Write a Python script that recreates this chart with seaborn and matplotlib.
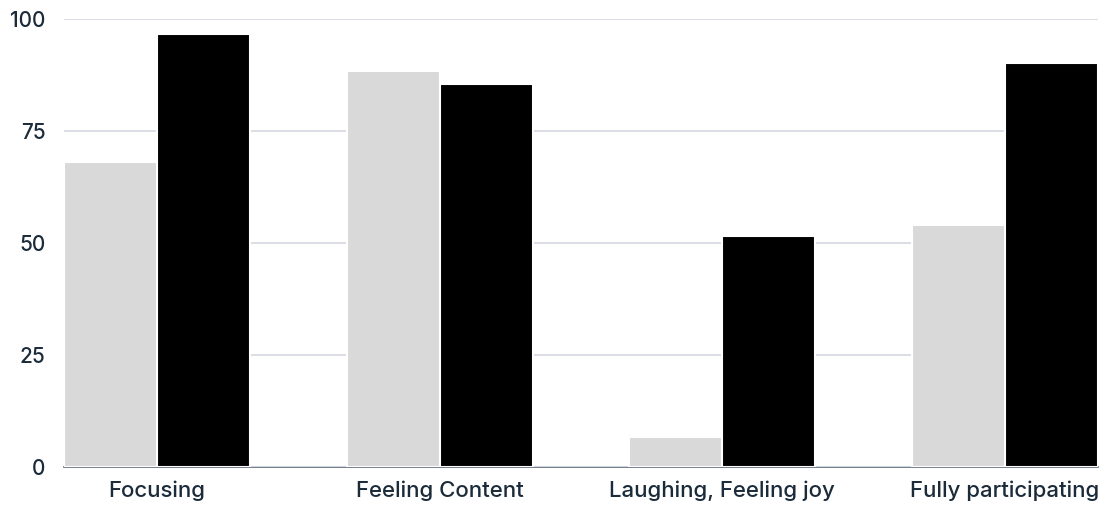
import matplotlib
matplotlib.use("Agg")
import matplotlib.pyplot as plt
import pandas as pd
import seaborn as sns

CATEGORIES = ["Focusing", "Feeling Content", "Laughing, Feeling joy", "Fully participating"]
SERIES = ["Series 1", "Series 2"]
SERIES_1 = [68, 88.5, 6.8, 54]
SERIES_2 = [96.6, 85.6, 51.6, 90.1]
Y_TICKS = [0, 25, 50, 75, 100]

COLORS = {"Series 1": "#d9d9d9", "Series 2": "#000000"}
TEXT_COLOR = "#1c2b3a"


def main() -> None:
    df = pd.DataFrame({
        "category": CATEGORIES * 2,
        "series": [SERIES[0]] * len(CATEGORIES) + [SERIES[1]] * len(CATEGORIES),
        "value": SERIES_1 + SERIES_2,
    })

    sns.set_theme(style="white")
    plt.rcParams["font.family"] = ["Inter", "DejaVu Sans"]

    fig = plt.figure(figsize=(11.11, 5.08), dpi=100)
    ax = fig.add_axes([64 / 1111, 41 / 508, 1034 / 1111, 448 / 508])

    sns.barplot(
        data=df, x="category", y="value", hue="series",
        order=CATEGORIES, hue_order=SERIES, palette=COLORS,
        width=0.66, gap=0, saturation=1, legend=False,
        edgecolor="white", linewidth=1.5, ax=ax,
    )

    ax.set_xlim(-0.33, 3.33)
    ax.set_ylim(0, 100)
    ax.set_yticks(Y_TICKS)
    ax.grid(axis="y", color="#d8dce3", linewidth=1.3)
    ax.set_axisbelow(True)
    for side in ("top", "right", "left"):
        ax.spines[side].set_visible(False)
    ax.spines["bottom"].set_color("#5c6b7a")
    ax.spines["bottom"].set_linewidth(1.2)
    ax.spines["bottom"].set_zorder(0.5)

    ax.set_xlabel("")
    ax.set_ylabel("")
    ax.tick_params(axis="both", length=0, labelcolor=TEXT_COLOR)
    ax.tick_params(axis="y", pad=13.5, labelsize=15)
    ax.tick_params(axis="x", pad=10, labelsize=16)
    for label in ax.get_xticklabels() + ax.get_yticklabels():
        label.set_fontweight("medium")

    fig.savefig("out.png", dpi=100)
    plt.close(fig)


if __name__ == "__main__":
    main()
